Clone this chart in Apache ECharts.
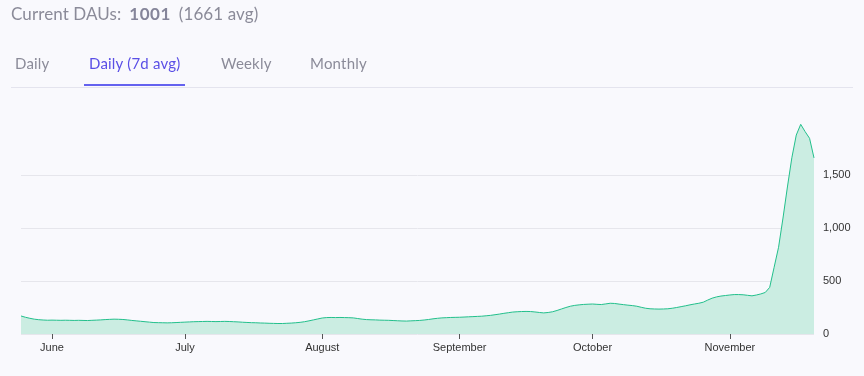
<!DOCTYPE html>
<html>
<head>
<meta charset="utf-8">
<script src="https://cdn.jsdelivr.net/npm/echarts@6/dist/echarts.min.js"></script>
<style>
  html, body { margin: 0; padding: 0; background: #f9f9fd; }
  #wrap { position: relative; width: 864px; height: 376px; overflow: hidden; font-family: Lato, "Noto Sans", sans-serif; }
  #head { position: absolute; left: 11px; top: 3px; font-size: 17px; color: #8b8b99; white-space: nowrap; letter-spacing: 0.1px; }
  #head b { color: #85859a; margin: 0 8px 0 8px; letter-spacing: 0.5px; }
  .tab { position: absolute; top: 54px; font-size: 15px; color: #8b8b99; letter-spacing: 0.2px; }
  .tab.on { color: #5a4fe6; }
  #underline { position: absolute; left: 84px; top: 84px; width: 101px; height: 2px; background: #6462ef; }
  #divider { position: absolute; left: 11px; top: 87px; width: 842px; height: 1px; background: #e4e4ee; }
  #chart { position: absolute; left: 0; top: 0; width: 864px; height: 376px; }
</style>
</head>
<body>
<div id="wrap">
  <div id="chart"></div>
  <div id="head">Current DAUs:<b>1001</b>(1661 avg)</div>
  <div class="tab" style="left:15px">Daily</div>
  <div class="tab on" style="left:89px">Daily (7d avg)</div>
  <div class="tab" style="left:221px">Weekly</div>
  <div class="tab" style="left:310px">Monthly</div>
  <div id="underline"></div>
  <div id="divider"></div>
</div>
<script>
// 7 day average of daily active users, one value a day from 2023-05-25 to 2023-11-20
const startDate = "2023-05-25";
const dauAvg = [
  170,158,148,140,135,132,130,131,130,129,
  130,129,128,129,128,127,129,131,133,136,
  138,140,139,137,133,128,124,120,116,112,
  108,107,106,105,106,108,110,112,114,116,
  117,118,119,118,117,118,119,118,116,114,
  111,109,107,106,104,103,101,100,99,99,
  101,103,106,110,116,124,133,142,151,155,
  156,155,156,155,154,152,146,140,136,134,
  133,131,130,129,127,125,123,122,124,126,
  128,132,137,143,148,152,154,156,157,158,
  160,162,164,166,168,172,176,182,188,195,
  201,207,210,212,213,212,208,203,199,203,
  210,222,236,250,262,270,275,279,281,283,
  280,278,284,290,288,282,277,272,268,262,
  252,243,238,236,235,236,238,243,250,258,
  266,275,283,290,300,320,338,350,358,363,
  368,372,372,370,365,360,368,378,392,440,
  630,818,1094,1387,1663,1877,1978,1909,1846,1661
];
const monthNames = ["January","February","March","April","May","June","July","August","September","October","November","December"];
const yTicks = [0, 500, 1000, 1500, 2000];

// build day labels
const days = [];
let d = new Date(startDate + "T00:00:00Z");
for (let i = 0; i < dauAvg.length; i++) {
  days.push(d.toISOString().slice(0, 10));
  d = new Date(d.getTime() + 86400000);
}
const isMonthStart = (idx, val) => val.slice(8) === "01";

let chart = echarts.init(document.getElementById("chart"));
let option = {
  animation: false,
  backgroundColor: "transparent",
  grid: { left: 21, right: 50, top: 122, bottom: 42 },
  xAxis: {
    type: "category",
    data: days,
    boundaryGap: false,
    axisLine: { show: false },
    axisTick: { show: true, interval: isMonthStart, length: 5, lineStyle: { color: "#555", width: 1 } },
    axisLabel: {
      interval: isMonthStart,
      color: "#333",
      fontSize: 11,
      fontFamily: "Liberation Sans, Arial, sans-serif",
      margin: 8,
      formatter: (v) => monthNames[parseInt(v.slice(5, 7), 10) - 1]
    },
    splitLine: { show: false }
  },
  yAxis: {
    type: "value",
    position: "right",
    min: yTicks[0],
    max: yTicks[yTicks.length - 1],
    interval: 500,
    axisLine: { show: false },
    axisTick: { show: false },
    axisLabel: {
      color: "#333",
      fontSize: 11,
      fontFamily: "Liberation Sans, Arial, sans-serif",
      margin: 9,
      showMaxLabel: false,
      formatter: (v) => v.toLocaleString("en-US")
    },
    splitLine: { show: true, showMaxLine: false, lineStyle: { color: "#e6e6ec", width: 1 } }
  },
  series: [{
    type: "line",
    data: dauAvg,
    symbol: "none",
    smooth: false,
    lineStyle: { color: "#22bf8b", width: 1 },
    areaStyle: { color: "#cbede2", opacity: 1 }
  }]
};
chart.setOption(option);
</script>
</body>
</html>
